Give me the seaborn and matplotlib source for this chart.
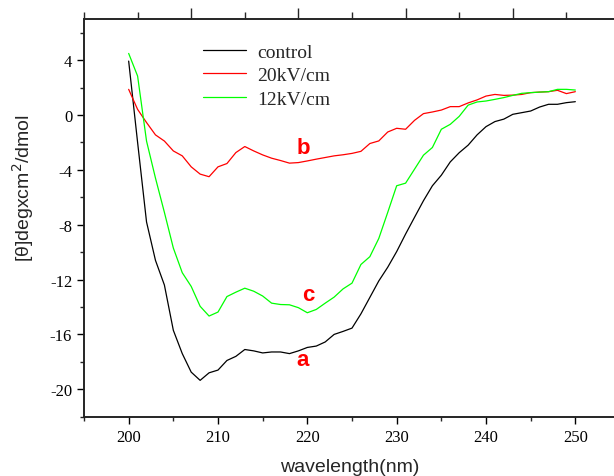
import numpy as np
import pandas as pd
import matplotlib
matplotlib.use("Agg")
import matplotlib.pyplot as plt
from matplotlib.ticker import MultipleLocator, FixedLocator, NullFormatter
import seaborn as sns

# --- data ---

wavelength = list(range(200, 251))

control = [3.93, -2.0, -7.8, -10.6, -12.4, -15.7, -17.4, -18.75, -19.35, -18.8,
           -18.6, -17.9, -17.6, -17.1, -17.2, -17.35, -17.28, -17.28, -17.4, -17.2,
           -16.95, -16.85, -16.55, -16.0, -15.78, -15.54, -14.5, -13.3, -12.1, -11.1,
           -9.96, -8.68, -7.46, -6.25, -5.16, -4.39, -3.42, -2.75, -2.2, -1.45,
           -0.85, -0.48, -0.3, 0.05, 0.17, 0.29, 0.58, 0.78, 0.78, 0.9,
           0.97]

kv20 = [1.87, 0.41, -0.55, -1.45, -1.9, -2.62, -2.98, -3.78, -4.31, -4.5,
        -3.78, -3.54, -2.74, -2.3, -2.62, -2.91, -3.15, -3.32, -3.51, -3.47,
        -3.35, -3.22, -3.1, -2.98, -2.9, -2.8, -2.65, -2.08, -1.89, -1.24,
        -0.97, -1.04, -0.39, 0.1, 0.22, 0.36, 0.61, 0.61, 0.88, 1.1,
        1.38, 1.5, 1.43, 1.45, 1.5, 1.63, 1.67, 1.7, 1.8, 1.56,
        1.7]

kv12 = [4.49, 2.84, -1.9, -4.6, -7.1, -9.7, -11.5, -12.5, -13.95, -14.66,
        -14.37, -13.24, -12.92, -12.63, -12.85, -13.2, -13.72, -13.82, -13.84, -14.05,
        -14.42, -14.18, -13.72, -13.28, -12.68, -12.26, -10.9, -10.33, -9.0, -7.1,
        -5.16, -4.97, -3.95, -2.93, -2.37, -1.04, -0.68, -0.1, 0.72, 0.95,
        1.02, 1.14, 1.27, 1.43, 1.58, 1.63, 1.67, 1.7, 1.87, 1.87,
        1.82]

series_names = ["control", "20kV/cm", "12kV/cm"]
series_colors = ["black", "#ff0000", "#00ff00"]

# curve labels (letter, x, y)
labels = [("b", 219.5, -2.4), ("c", 220.1, -13.1), ("a", 219.5, -17.8)]

df = pd.concat([
    pd.DataFrame({"wavelength": wavelength, "theta": vals, "sample": name})
    for name, vals in zip(series_names, [control, kv20, kv12])
])

# --- plot ---

sns.set_style("ticks")
plt.rcParams["font.family"] = ["Liberation Serif", "DejaVu Serif"]
plt.rcParams["axes.unicode_minus"] = False

fig = plt.figure(figsize=(6.14, 4.77), dpi=100)
ax = fig.add_axes([84 / 614, 59.3 / 477, 536 / 614, 397.7 / 477])

sns.lineplot(data=df, x="wavelength", y="theta", hue="sample",
             hue_order=series_names, palette=series_colors,
             linewidth=0.9, ax=ax)

ax.set_xlim(195, 255)
ax.set_ylim(-22, 7)
ax.xaxis.set_major_locator(MultipleLocator(10))
ax.xaxis.set_minor_locator(MultipleLocator(5))
ax.yaxis.set_major_locator(MultipleLocator(4))
ax.yaxis.set_minor_locator(MultipleLocator(2))
ax.tick_params(which="major", direction="out", length=5, width=1, labelsize=12, colors="black")
ax.tick_params(which="minor", direction="out", length=3, width=1)
for s in ax.spines.values():
    s.set_linewidth(1.1)
    s.set_color("black")

# top axis with its own ticks, no labels
top = ax.twiny()
top.set_xlim(ax.get_xlim())
top.xaxis.set_major_locator(FixedLocator([207, 219, 231, 243]))
top.xaxis.set_minor_locator(FixedLocator([195, 201, 213, 225, 237, 249]))
top.xaxis.set_major_formatter(NullFormatter())
top.tick_params(which="major", direction="out", length=8, width=1)
top.tick_params(which="minor", direction="out", length=5, width=1)
for s in top.spines.values():
    s.set_linewidth(1.1)

ax.set_xlabel("wavelength(nm)", family="Liberation Sans", fontsize=14)
ax.set_ylabel("[θ]degxcm$^2$/dmol", family="Liberation Sans", fontsize=14)
ax.xaxis.set_label_coords(0.496, -0.104)
ax.yaxis.set_label_coords(-0.090, 0.578)

for txt, x, y in labels:
    ax.text(x, y, txt, color="#ff0000", fontsize=16, fontweight="bold",
            family="Liberation Sans", ha="center", va="center")

ax.legend(title=None, frameon=False, fontsize=14, loc="upper left",
          bbox_to_anchor=(0.222, 0.9395), borderpad=0, borderaxespad=0,
          handlelength=2.2, handletextpad=0.6, labelspacing=0.3)

plt.savefig("out.png", dpi=100)
